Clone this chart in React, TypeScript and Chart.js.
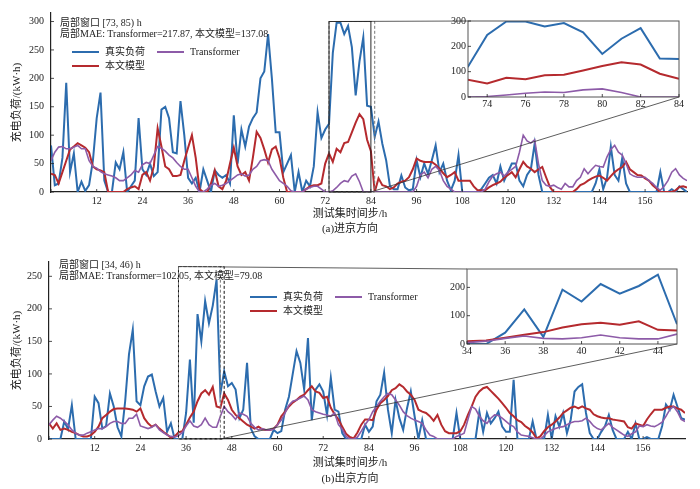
import { useEffect, useRef } from 'react';
import Chart from 'chart.js/auto';

const FONT = '"Liberation Serif", "Noto Sans CJK SC", serif';
const INK = '#222';
const BLUE = '#2c6cae';
const RED = '#b52a2e';
const PURPLE = '#8d5ba8';

// hour index of the test set
const HOURS = Array.from({ length: 168 }, (_, i) => i);
const X_MAX = 167;
const X_STEP = 12;

// (a) 进京方向
const IN_TRUE = [
  82, 12, 15, 60, 192, 35, 68, 0, 18, 2, 12, 55,
  130, 175, 20, 0, 0, 52, 40, 70, 0, 10, 20, 130,
  40, 30, 50, 28, 35, 145, 150, 130, 70, 68, 160, 100,
  25, 15, 25, 0, 40, 20, 0, 38, 30, 25, 30, 15,
  135, 50, 110, 80, 115, 130, 140, 200, 212, 278, 200, 105,
  105, 35, 50, 65, 0, 35, 0, 20, 10, 45, 140, 95,
  110, 120, 245, 298, 298, 278, 292, 255, 170, 230, 272, 152,
  150, 97, 124, 85, 56, 10, 5, 5, 29, 8, 3, 5,
  56, 26, 50, 32, 56, 82, 35, 50, 20, 3, 20, 65,
  0, 0, 0, 0, 0, 5, 15, 25, 30, 15, 45, 20,
  35, 50, 50, 20, 10, 30, 40, 85, 30, 0, 0, 0,
  0, 0, 0, 0, 0, 0, 0, 0, 0, 0, 0, 15,
  40, 5, 25, 80, 30, 20, 60, 15, 0, 0, 0, 0,
  0, 0, 0, 0, 35, 0, 0, 5, 0, 10, 5, 0,
];
const IN_OURS = [
  32, 30, 15, 35, 55, 75, 80, 86, 82, 78, 70, 45,
  40, 38, 35, 0, 0, 0, 0, 0, 5, 8, 10, 5,
  30, 35, 20, 45, 112, 80, 45, 40, 28, 28, 30, 55,
  78, 100, 60, 5, 0, 0, 15, 38, 10, 5, 20, 50,
  78, 45, 30, 35, 20, 60, 106, 95, 75, 52, 75, 80,
  60, 25, 0, 0, 0, 0, 0, 5, 10, 12, 12, 15,
  50, 68, 53, 76, 70, 86, 88, 105, 122, 137, 128, 92,
  72, 0, 24, 12, 10, 5, 8, 15, 18, 20, 26, 40,
  59, 55, 53, 53, 53, 48, 41, 33, 26, 30, 35, 20,
  20, 20, 20, 10, 3, 3, 3, 8, 12, 15, 18, 25,
  30, 35, 26, 40, 53, 45, 41, 35, 40, 44, 26, 9,
  0, 0, 0, 0, 0, 0, 5, 12, 15, 20, 24, 27,
  29, 25, 20, 28, 35, 40, 44, 53, 40, 35, 30, 29,
  24, 20, 12, 6, 0, 0, 0, 0, 3, 9, 10, 8,
];
const IN_TRANS = [
  55, 70, 79, 80, 76, 76, 79, 82, 76, 76, 55, 45,
  42, 36, 32, 30, 28, 25, 20, 20, 25, 30, 38, 35,
  48, 52, 50, 65, 80, 77, 72, 65, 60, 52, 45, 40,
  40, 25, 10, 0, 0, 5, 12, 15, 10, 12, 15, 20,
  25, 30, 32, 28, 30, 40, 45, 55, 57, 55, 40, 30,
  20, 15, 10, 2, 0, 0, 0, 5, 8, 10, 10, 5,
  0, 0, 2, 8, 15, 20, 18, 28, 32, 18, 0, 0,
  0, 0, 0, 0, 0, 0, 0, 0, 0, 0, 0, 0,
  10, 30, 35, 25, 40, 45, 38, 20, 10, 5, 0, 0,
  0, 0, 0, 0, 0, 0, 5, 18, 28, 32, 35, 28,
  35, 40, 45, 70, 100, 90, 86, 92, 50, 20, 12, 10,
  12, 8, 5, 15, 9, 9, 20, 26, 41, 32, 40, 47,
  45, 44, 62, 75, 82, 70, 65, 50, 32, 28, 26, 26,
  26, 20, 15, 8, 3, 10, 20, 35, 41, 30, 24, 20,
];

// (b) 出京方向
const OUT_TRUE = [
  0, 0, 0, 0, 27, 15, 52, 0, 0, 0, 0, 0,
  65, 55, 16, 20, 70, 50, 18, 4, 58, 130, 168, 58,
  52, 81, 96, 99, 73, 50, 63, 11, 24, 0, 0, 0,
  40, 122, 25, 192, 150, 212, 178, 205, 245, 70, 104, 81,
  86, 76, 32, 45, 117, 16, 4, 0, 0, 0, 0, 14,
  9, 12, 45, 65, 100, 135, 117, 76, 155, 29, 76, 84,
  73, 37, 94, 45, 42, 9, 0, 0, 0, 0, 0, 22,
  11, 19, 58, 68, 102, 45, 9, 60, 32, 14, 47, 73,
  35, 0, 29, 0, 0, 0, 0, 0, 0, 0, 0, 40,
  0, 0, 0, 0, 0, 42, 11, 40, 24, 32, 42, 19,
  11, 11, 91, 0, 0, 0, 0, 27, 0, 0, 0, 37,
  0, 35, 19, 40, 9, 30, 73, 80, 84, 40, 9, 0,
  0, 11, 20, 37, 14, 0, 0, 0, 11, 0, 24, 0,
  0, 3, 0, 0, 0, 20, 53, 45, 68, 50, 32, 30,
];
const OUT_OURS = [
  24, 16, 24, 14, 16, 14, 11, 9, 6, 4, 4, 6,
  11, 19, 32, 37, 42, 46, 47, 47, 47, 46, 45, 42,
  47, 32, 24, 19, 22, 16, 11, 7, 2, 4, 10, 12,
  22, 33, 42, 58, 70, 75, 68, 80, 50, 48, 70, 60,
  45, 37, 32, 27, 22, 19, 16, 19, 15, 14, 14, 16,
  22, 35, 42, 50, 56, 60, 65, 68, 75, 81, 73, 71,
  63, 65, 48, 38, 30, 19, 8, 3, 1, 10, 22, 30,
  30, 29, 45, 55, 60, 66, 75, 78, 84, 80, 73, 68,
  60, 45, 42, 40, 35, 28, 37, 22, 12, 9, 9, 9,
  12, 22, 37, 50, 65, 73, 78, 80, 74, 68, 62, 55,
  48, 40, 35, 29, 26, 20, 16, 10, 1, 4, 12, 18,
  22, 27, 33, 40, 44, 48, 50, 47, 50, 47, 45, 38,
  35, 33, 32, 32, 30, 29, 28, 27, 18, 16, 24, 22,
  20, 30, 38, 45, 45, 45, 48, 50, 50, 47, 45, 40,
];
const OUT_TRANS = [
  22, 29, 35, 32, 27, 22, 14, 9, 6, 6, 9, 11,
  14, 16, 16, 19, 24, 27, 27, 24, 24, 32, 32, 38,
  20, 18, 16, 18, 22, 14, 10, 6, 4, 3, 5, 10,
  20, 28, 20, 18, 22, 32, 22, 18, 18, 35, 50, 42,
  37, 30, 40, 38, 35, 24, 18, 14, 16, 14, 14, 15,
  22, 29, 40, 52, 58, 60, 63, 66, 60, 45, 42, 40,
  38, 37, 35, 40, 22, 15, 4, 0, 0, 3, 12, 22,
  30, 42, 50, 58, 65, 70, 68, 60, 52, 42, 36, 32,
  29, 27, 24, 14, 6, 4, 0, 0, 0, 0, 0, 4,
  6, 9, 30, 50, 46, 35, 28, 24, 32, 37, 36, 32,
  27, 22, 19, 11, 6, 5, 4, 2, 0, 0, 5, 11,
  14, 16, 18, 19, 22, 25, 27, 27, 28, 32, 27, 20,
  16, 14, 19, 24, 18, 14, 10, 6, 4, 8, 11, 20,
  19, 22, 20, 19, 22, 26, 35, 45, 50, 42, 30, 27,
];

type Box = { left: number; top: number; width: number; height: number };
type Pad = { left: number; top: number; right: number; bottom: number };
type Stroke = { color: string; dash: number[]; width: number };

interface PanelProps {
  trueLoad: number[];
  ours: number[];
  trans: number[];
  yMax: number;
  yStep: number;
  windowRange: number[];
  zoomX: number[];
  zoomY: number[];
  insetYStep: number;
  main: Box;
  mainPad: Pad;
  inset: Box;
  insetPad: Pad;
  windowStroke: Stroke;
  rectStroke: Stroke;
}

const tickFont = { family: FONT, size: 10 };
const noGrid = { display: false, drawTicks: false, tickLength: 0 };

function makeDatasets(p: PanelProps, wide: number) {
  return [
    { label: '真实负荷', data: p.trueLoad, borderColor: BLUE, borderWidth: wide, order: 3 },
    { label: '本文模型', data: p.ours, borderColor: RED, borderWidth: wide, order: 2 },
    { label: 'Transformer', data: p.trans, borderColor: PURPLE, borderWidth: wide - 0.4, order: 1 },
  ];
}

// short inward tick marks, matplotlib style
const innerTicks = {
  id: 'innerTicks',
  afterDraw(chart: any) {
    const { ctx, chartArea, scales } = chart;
    ctx.save();
    ctx.strokeStyle = INK;
    ctx.lineWidth = 0.8;
    ctx.beginPath();
    for (const t of scales.x.ticks) {
      const px = scales.x.getPixelForValue(t.value);
      ctx.moveTo(px, chartArea.bottom);
      ctx.lineTo(px, chartArea.bottom - 3);
    }
    for (const t of scales.y.ticks) {
      const py = scales.y.getPixelForValue(t.value);
      ctx.moveTo(chartArea.left, py);
      ctx.lineTo(chartArea.left + 3, py);
    }
    ctx.stroke();
    ctx.restore();
  },
};

const frame = {
  id: 'frame',
  afterDraw(chart: any) {
    const { ctx, chartArea: a } = chart;
    ctx.save();
    ctx.strokeStyle = '#555';
    ctx.lineWidth = 1;
    ctx.strokeRect(a.left, a.top, a.right - a.left, a.bottom - a.top);
    ctx.restore();
  },
};

function ZoomPanel(p: PanelProps) {
  const mainRef = useRef<HTMLCanvasElement>(null);
  const insetRef = useRef<HTMLCanvasElement>(null);

  useEffect(() => {
    if (!mainRef.current || !insetRef.current) return;

    const inset = new Chart(insetRef.current, {
      type: 'line',
      data: { labels: HOURS, datasets: makeDatasets(p, 2) },
      options: {
        animation: false,
        responsive: true,
        maintainAspectRatio: false,
        layout: { padding: { left: 0, top: p.insetPad.top, right: p.insetPad.right, bottom: 0 } },
        elements: { point: { radius: 0 }, line: { tension: 0 } },
        plugins: { legend: { display: false }, tooltip: { enabled: false } },
        scales: {
          x: {
            type: 'linear',
            min: p.zoomX[0],
            max: p.zoomX[1],
            grid: noGrid,
            border: { display: false },
            ticks: { stepSize: 2, includeBounds: false, autoSkip: false, maxRotation: 0, padding: 1, color: INK, font: tickFont },
            afterFit: (s: any) => { s.height = p.insetPad.bottom; },
          },
          y: {
            min: p.zoomY[0],
            max: p.zoomY[1],
            grid: noGrid,
            border: { display: false },
            ticks: { stepSize: p.insetYStep, includeBounds: false, padding: 2, color: INK, font: tickFont },
            afterFit: (s: any) => { s.width = p.insetPad.left; },
          },
        },
      },
      plugins: [frame, innerTicks],
    });

    const marks = {
      id: 'zoomMarks',
      afterDatasetsDraw(chart: any) {
        const { ctx, scales: { x, y } } = chart;
        const ia = inset.chartArea;
        const dx = p.inset.left - p.main.left;
        const dy = p.inset.top - p.main.top;
        const rx0 = x.getPixelForValue(p.zoomX[0]);
        const rx1 = x.getPixelForValue(p.zoomX[1]);
        const ry0 = y.getPixelForValue(p.zoomY[1]);
        const ry1 = y.getPixelForValue(p.zoomY[0]);
        const wx1 = x.getPixelForValue(p.windowRange[1]);
        ctx.save();
        const stroke = (s: Stroke) => {
          ctx.strokeStyle = s.color;
          ctx.lineWidth = s.width;
          ctx.setLineDash(s.dash);
        };
        stroke(p.windowStroke);
        ctx.strokeRect(rx0, ry0, wx1 - rx0, ry1 - ry0);
        stroke(p.rectStroke);
        ctx.strokeRect(rx0, ry0, rx1 - rx0, ry1 - ry0);
        ctx.setLineDash([]);
        ctx.strokeStyle = '#333';
        ctx.lineWidth = 0.8;
        ctx.beginPath();
        ctx.moveTo(rx0, ry0);
        ctx.lineTo(ia.left + dx, ia.top + dy);
        ctx.moveTo(rx1, ry1);
        ctx.lineTo(ia.right + dx, ia.bottom + dy);
        ctx.stroke();
        ctx.restore();
      },
    };

    const main = new Chart(mainRef.current, {
      type: 'line',
      data: { labels: HOURS, datasets: makeDatasets(p, 2) },
      options: {
        animation: false,
        responsive: true,
        maintainAspectRatio: false,
        layout: { padding: { left: 0, top: p.mainPad.top, right: p.mainPad.right, bottom: 0 } },
        elements: { point: { radius: 0 }, line: { tension: 0 } },
        plugins: { legend: { display: false }, tooltip: { enabled: false } },
        scales: {
          x: {
            type: 'linear',
            min: 0,
            max: X_MAX,
            grid: noGrid,
            border: { display: true, color: INK, width: 1.2 },
            ticks: {
              stepSize: X_STEP,
              includeBounds: false,
              autoSkip: false,
              maxRotation: 0,
              padding: 3,
              color: INK,
              font: tickFont,
              callback: (v: any) => (v === 0 ? '' : v),
            },
            afterFit: (s: any) => { s.height = p.mainPad.bottom; },
          },
          y: {
            min: 0,
            max: p.yMax,
            grid: noGrid,
            border: { display: true, color: INK, width: 1.2 },
            ticks: { stepSize: p.yStep, includeBounds: false, padding: 7, color: INK, font: tickFont },
            title: {
              display: true,
              text: '充电负荷/(kW·h)',
              color: INK,
              font: { family: FONT, size: 11 },
              padding: { top: 11, bottom: 0 },
            },
            afterFit: (s: any) => { s.width = p.mainPad.left; },
          },
        },
      },
      plugins: [marks, innerTicks],
    });

    return () => {
      main.destroy();
      inset.destroy();
    };
  }, []);

  const place = (b: Box) => ({ position: 'absolute' as const, left: b.left, top: b.top, width: b.width, height: b.height });

  return (
    <>
      <div style={place(p.main)}>
        <canvas ref={mainRef} />
      </div>
      <div style={place(p.inset)}>
        <canvas ref={insetRef} />
      </div>
    </>
  );
}

function Txt({ x, y, size = 10, center = false, children }: { x: number; y: number; size?: number; center?: boolean; children: any }) {
  return (
    <div
      style={{
        position: 'absolute',
        left: x,
        top: y,
        fontSize: size,
        lineHeight: 1,
        whiteSpace: 'nowrap',
        transform: center ? 'translate(-50%, -50%)' : 'translateY(-50%)',
      }}
    >
      {children}
    </div>
  );
}

function LegendItem({ x, y, color, label, lineLen = 27 }: { x: number; y: number; color: string; label: string; lineLen?: number }) {
  return (
    <>
      <div style={{ position: 'absolute', left: x, top: y - 1, width: lineLen, height: 2.2, background: color }} />
      <Txt x={x + lineLen + 6} y={y}>{label}</Txt>
    </>
  );
}

export default function App() {
  return (
    <div
      style={{
        position: 'absolute',
        left: 0,
        top: 0,
        width: 700,
        height: 489,
        background: '#fff',
        fontFamily: FONT,
        color: INK,
        overflow: 'hidden',
      }}
    >
      <ZoomPanel
        trueLoad={IN_TRUE}
        ours={IN_OURS}
        trans={IN_TRANS}
        yMax={315}
        yStep={50}
        windowRange={[73, 85]}
        zoomX={[73, 84]}
        zoomY={[0, 300]}
        insetYStep={100}
        main={{ left: 0, top: 0, width: 700, height: 240 }}
        mainPad={{ left: 51, top: 13, right: 13, bottom: 48 }}
        inset={{ left: 440, top: 8, width: 252, height: 108 }}
        insetPad={{ left: 28, top: 13, right: 13, bottom: 19 }}
        windowStroke={{ color: '#777', dash: [3, 2], width: 1 }}
        rectStroke={{ color: '#111', dash: [], width: 0.9 }}
      />
      <ZoomPanel
        trueLoad={OUT_TRUE}
        ours={OUT_OURS}
        trans={OUT_TRANS}
        yMax={272}
        yStep={50}
        windowRange={[34, 46]}
        zoomX={[34, 45]}
        zoomY={[0, 265]}
        insetYStep={100}
        main={{ left: 0, top: 240, width: 700, height: 249 }}
        mainPad={{ left: 49, top: 22, right: 15, bottom: 50 }}
        inset={{ left: 440, top: 256, width: 252, height: 108 }}
        insetPad={{ left: 27, top: 13, right: 15, bottom: 20 }}
        windowStroke={{ color: '#111', dash: [3, 2], width: 1 }}
        rectStroke={{ color: '#777', dash: [3, 2], width: 1 }}
      />

      <Txt x={60} y={23}>局部窗口 [73, 85) h</Txt>
      <Txt x={60} y={34}>局部MAE: Transformer=217.87, 本文模型=137.08</Txt>
      <LegendItem x={72} y={52} color={BLUE} label="真实负荷" />
      <LegendItem x={157} y={52} color={PURPLE} label="Transformer" />
      <LegendItem x={72} y={66} color={RED} label="本文模型" />
      <Txt x={350} y={213} size={11} center>测试集时间步/h</Txt>
      <Txt x={350} y={228} size={11} center>(a)进京方向</Txt>

      <Txt x={59} y={265}>局部窗口 [34, 46) h</Txt>
      <Txt x={59} y={276}>局部MAE: Transformer=102.05, 本文模型=79.08</Txt>
      <LegendItem x={250} y={297} color={BLUE} label="真实负荷" />
      <LegendItem x={335} y={297} color={PURPLE} label="Transformer" />
      <LegendItem x={250} y={311} color={RED} label="本文模型" />
      <Txt x={350} y={462} size={11} center>测试集时间步/h</Txt>
      <Txt x={350} y={478} size={11} center>(b)出京方向</Txt>
    </div>
  );
}
